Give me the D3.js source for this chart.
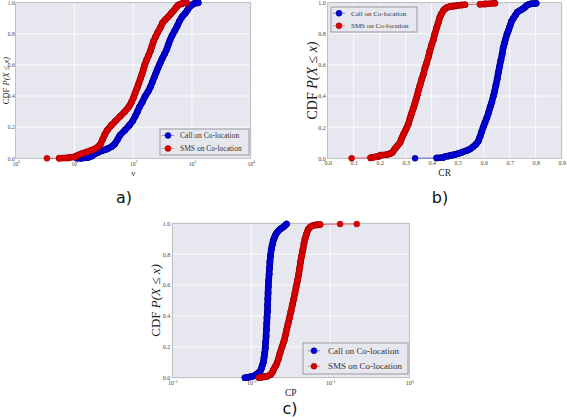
<!DOCTYPE html>
<html><head><meta charset="utf-8">
<script src="https://cdn.jsdelivr.net/npm/d3@7"></script>
<style>body{margin:0;background:#fff}svg{display:block}</style>
</head><body>
<svg id="c" width="567" height="418"></svg>
<script>
// ---- data: [value, CDF] ----
const callNu = [[11,0],[13,0],[17,0.005],[20,0.015],[22.5,0.03],[26,0.04],[30,0.05],[36,0.06],[43,0.075],[48,0.09],[54,0.12],[60,0.15],[72,0.18],[85,0.21],[98,0.24],[108,0.27],[118,0.3],[128,0.33],[142,0.36],[160,0.4],[180,0.43],[197,0.46],[212,0.49],[228,0.52],[245,0.55],[264,0.58],[286,0.61],[310,0.64],[340,0.67],[372,0.7],[395,0.73],[423,0.76],[460,0.79],[510,0.82],[560,0.85],[610,0.88],[680,0.91],[760,0.93],[830,0.95],[900,0.97],[990,0.985],[1100,0.995],[1282,1]];
const smsNu = [[3.4,0],[5.5,0],[7.9,0.003],[10.2,0.01],[11.5,0.02],[13.5,0.03],[16,0.04],[19,0.05],[22,0.06],[25.5,0.075],[27.5,0.09],[30,0.12],[32.5,0.15],[36,0.18],[42,0.21],[50,0.24],[60,0.27],[72,0.3],[84,0.33],[93,0.36],[101,0.39],[108,0.42],[116,0.45],[124,0.48],[132,0.51],[141,0.54],[149,0.57],[157,0.6],[168,0.63],[182,0.66],[196,0.69],[208,0.72],[220,0.75],[240,0.78],[262,0.81],[290,0.84],[315,0.87],[350,0.89],[395,0.91],[440,0.93],[490,0.95],[540,0.97],[586,0.985],[680,0.995],[813,1]];
const callCR = [[0.336,0],[0.419,0.002],[0.445,0.006],[0.451,0.01],[0.465,0.015],[0.477,0.02],[0.49,0.025],[0.502,0.03],[0.518,0.04],[0.535,0.05],[0.548,0.06],[0.56,0.075],[0.57,0.09],[0.579,0.11],[0.586,0.14],[0.592,0.17],[0.598,0.2],[0.605,0.23],[0.612,0.26],[0.618,0.29],[0.625,0.33],[0.631,0.36],[0.637,0.4],[0.642,0.43],[0.647,0.47],[0.652,0.51],[0.656,0.55],[0.661,0.59],[0.666,0.63],[0.671,0.67],[0.675,0.71],[0.68,0.74],[0.685,0.77],[0.69,0.8],[0.695,0.82],[0.701,0.85],[0.707,0.88],[0.714,0.9],[0.722,0.92],[0.73,0.94],[0.74,0.95],[0.75,0.96],[0.758,0.97],[0.765,0.982],[0.775,0.99],[0.785,0.993],[0.797,0.995],[0.802,0.996]];
const smsCR = [[0.092,0],[0.165,0.003],[0.175,0.006],[0.188,0.01],[0.2,0.015],[0.204,0.02],[0.23,0.025],[0.24,0.03],[0.25,0.04],[0.258,0.06],[0.268,0.08],[0.278,0.1],[0.285,0.13],[0.293,0.16],[0.302,0.19],[0.31,0.22],[0.317,0.26],[0.323,0.29],[0.329,0.32],[0.335,0.35],[0.34,0.38],[0.345,0.41],[0.35,0.44],[0.355,0.47],[0.362,0.51],[0.368,0.54],[0.374,0.58],[0.38,0.61],[0.387,0.65],[0.393,0.69],[0.4,0.73],[0.406,0.76],[0.412,0.8],[0.419,0.84],[0.425,0.87],[0.432,0.91],[0.438,0.93],[0.445,0.95],[0.451,0.96],[0.46,0.97],[0.47,0.975],[0.483,0.978],[0.496,0.98],[0.515,0.985],[0.528,0.987],[0.586,0.99],[0.605,0.992],[0.643,0.996]];
const callCP = [[0.0083,0],[0.0092,0.003],[0.0098,0.006],[0.0106,0.01],[0.0115,0.02],[0.0122,0.03],[0.0129,0.04],[0.0134,0.06],[0.0138,0.08],[0.0142,0.1],[0.0145,0.13],[0.0148,0.16],[0.015,0.19],[0.0152,0.23],[0.0154,0.27],[0.0155,0.31],[0.0157,0.35],[0.0158,0.39],[0.016,0.43],[0.0161,0.47],[0.0162,0.51],[0.0163,0.55],[0.0164,0.59],[0.0166,0.63],[0.0168,0.67],[0.017,0.71],[0.0172,0.75],[0.0175,0.79],[0.0179,0.83],[0.0184,0.86],[0.019,0.89],[0.0197,0.91],[0.0205,0.93],[0.0215,0.945],[0.023,0.96],[0.0245,0.97],[0.026,0.98],[0.0272,0.99],[0.028,0.995]];
const smsCP = [[0.0125,0],[0.0135,0.003],[0.0145,0.006],[0.016,0.01],[0.0175,0.02],[0.0185,0.035],[0.019,0.05],[0.0205,0.08],[0.022,0.12],[0.0231,0.16],[0.0245,0.2],[0.026,0.24],[0.0272,0.28],[0.028,0.31],[0.0292,0.35],[0.0305,0.39],[0.0318,0.43],[0.033,0.47],[0.0345,0.51],[0.0357,0.55],[0.037,0.59],[0.0385,0.63],[0.0398,0.67],[0.041,0.71],[0.042,0.75],[0.0435,0.79],[0.045,0.83],[0.0465,0.87],[0.0479,0.9],[0.05,0.93],[0.0525,0.96],[0.0553,0.975],[0.06,0.985],[0.0673,0.99],[0.0742,0.992],[0.133,0.995],[0.216,0.995]];

const seriesNames = ["Call on Co-location", "SMS on Co-location"];
const yTicks = [0, 0.2, 0.4, 0.6, 0.8, 1.0];
const nuExps = [0, 1, 2, 3, 4];
const crTicks = [0, 0.1, 0.2, 0.3, 0.4, 0.5, 0.6, 0.7, 0.8, 0.9];
const cpExps = [-3, -2, -1, 0];
const xLabels = ["\u03bd", "CR", "CP"];
const captions = ["a)", "b)", "c)"];

const colors = [{fill:"#0000d8", stroke:"#00008a"}, {fill:"#dd0000", stroke:"#990000"}];
const svg = d3.select("#c");
const SERIF = "'Liberation Serif','DejaVu Serif',serif";

function panel(o){
  const g = svg.append("g");
  const x = o.log ? d3.scaleLog().domain(o.xdom).range([o.l, o.r])
                  : d3.scaleLinear().domain(o.xdom).range([o.l, o.r]);
  const y = d3.scaleLinear().domain([0,1]).range([o.b, o.t]);
  g.append("rect").attr("x",o.l).attr("y",o.t).attr("width",o.r-o.l).attr("height",o.b-o.t)
    .attr("fill","#e7e7f0");
  g.selectAll(".gx").data(o.xticks).join("line")
    .attr("x1",d=>x(d)).attr("x2",d=>x(d)).attr("y1",o.t).attr("y2",o.b)
    .attr("stroke","#fff").attr("stroke-width",0.8);
  g.selectAll(".gy").data(yTicks).join("line")
    .attr("y1",d=>y(d)).attr("y2",d=>y(d)).attr("x1",o.l).attr("x2",o.r)
    .attr("stroke","#fff").attr("stroke-width",0.8);
  g.append("rect").attr("x",o.l).attr("y",o.t).attr("width",o.r-o.l).attr("height",o.b-o.t)
    .attr("fill","none").attr("stroke","#a8a8b0").attr("stroke-width",0.8);
  const yAx = d3.axisLeft(y).tickValues(yTicks).tickFormat(d3.format(".1f")).tickSize(0).tickPadding(o.ypad||2);
  const ya = g.append("g").attr("transform",`translate(${o.l},0)`).call(yAx);
  ya.select(".domain").remove();
  ya.selectAll("text").attr("font-family",SERIF).attr("font-size",o.tfs).attr("fill","#444");
  const xAx = d3.axisBottom(x).tickValues(o.xticks).tickSize(0).tickPadding(o.xpad||2)
     .tickFormat(o.log ? ()=>"" : d3.format(".1f"));
  const xa = g.append("g").attr("transform",`translate(0,${o.b})`).call(xAx);
  xa.select(".domain").remove();
  xa.selectAll("text").attr("font-family",SERIF).attr("font-size",o.tfs).attr("fill","#444");
  if (o.log) {
    xa.selectAll(".tick text").each(function(d){
      const t = d3.select(this);
      t.text(null);
      t.append("tspan").text("10");
      t.append("tspan").attr("font-size",o.tfs*0.72).attr("dy",-o.tfs*0.45).text(Math.round(Math.log10(d)));
    });
  }
  const line = d3.line().x(d=>x(d[0])).y(d=>y(d[1]));
  o.series.forEach((s,i)=>{
    g.append("path").datum(s).attr("d",line).attr("fill","none")
      .attr("stroke",colors[i].fill).attr("stroke-width",1).attr("stroke-opacity",0.5);
    const segs = d3.pairs(s).filter(([a,b])=>Math.hypot(x(a[0])-x(b[0]), y(a[1])-y(b[1])) < 11);
    g.selectAll(null).data(segs).join("line")
      .attr("x1",d=>x(d[0][0])).attr("y1",d=>y(d[0][1])).attr("x2",d=>x(d[1][0])).attr("y2",d=>y(d[1][1]))
      .attr("stroke",colors[i].stroke).attr("stroke-width",o.mr*2+0.6).attr("stroke-linecap","round");
    g.selectAll(null).data(segs).join("line")
      .attr("x1",d=>x(d[0][0])).attr("y1",d=>y(d[0][1])).attr("x2",d=>x(d[1][0])).attr("y2",d=>y(d[1][1]))
      .attr("stroke",colors[i].fill).attr("stroke-width",o.mr*2-0.6).attr("stroke-linecap","round");
    g.selectAll(null).data(s).join("circle")
      .attr("cx",d=>x(d[0])).attr("cy",d=>y(d[1])).attr("r",o.mr)
      .attr("fill",colors[i].fill).attr("stroke",colors[i].stroke).attr("stroke-width",0.5);
  });
  const L = o.leg;
  g.append("rect").attr("x",L.x).attr("y",L.y).attr("width",L.w).attr("height",L.h)
    .attr("fill","#e7e7f0").attr("stroke","#888").attr("stroke-width",0.8);
  seriesNames.forEach((n,i)=>{
    const cy = L.y + L.h*(i*2+1)/4;
    g.append("line").attr("x1",L.mx-6).attr("x2",L.mx+6).attr("y1",cy).attr("y2",cy)
      .attr("stroke",colors[i].fill).attr("stroke-opacity",0.4).attr("stroke-width",1);
    g.append("circle").attr("cx",L.mx).attr("cy",cy).attr("r",o.mr)
      .attr("fill",colors[i].fill).attr("stroke",colors[i].stroke).attr("stroke-width",0.5);
    g.append("text").attr("x",L.tx).attr("y",cy).attr("dy","0.35em")
      .attr("font-family",SERIF).attr("font-size",L.fs).attr("fill","#333").text(n);
  });
  const yl = g.append("text").attr("transform",`translate(${o.ylx},${(o.t+o.b)/2}) rotate(-90)`)
    .attr("text-anchor","middle").attr("font-family",SERIF).attr("font-size",o.yfs).attr("fill","#222");
  yl.append("tspan").text("CDF ");
  yl.append("tspan").attr("font-style","italic").text("P(X \u2264 x)");
  g.append("text").attr("x",(o.l+o.r)/2).attr("y",o.xly).attr("text-anchor","middle")
    .attr("font-family",SERIF).attr("font-size",o.xfs).attr("fill","#222").text(o.xlabel);
  g.append("text").attr("x",o.capx).attr("y",o.capy).attr("text-anchor","middle")
    .attr("font-family","'DejaVu Sans',sans-serif").attr("font-size",16).attr("fill","#111").text(o.cap);
}

panel({log:true, xdom:[1,1e4], l:15.7, r:250.7, t:2.7, b:158.3,
  xticks:nuExps.map(e=>Math.pow(10,e)), series:[callNu, smsNu], mr:3, tfs:5.5, ypad:1, xpad:3.5,
  leg:{x:160,y:129,w:89,h:26,mx:168,tx:180,fs:7.5},
  ylx:8.5, yfs:8.5, xly:176, xfs:9, xlabel:xLabels[0], cap:captions[0], capx:124, capy:203});

panel({log:false, xdom:[0,0.9], l:327.7, r:561.7, t:2.7, b:158.3,
  xticks:crTicks, series:[callCR, smsCR], mr:3, tfs:6,
  leg:{x:331,y:7,w:86,h:25,mx:339,tx:351,fs:7},
  ylx:317, yfs:14, xly:176, xfs:9.5, xlabel:xLabels[1], cap:captions[1], capx:440, capy:203});

panel({log:true, xdom:[1e-3,1], l:172.3, r:409.3, t:223.3, b:377.7,
  xticks:cpExps.map(e=>Math.pow(10,e)), series:[callCP, smsCP], mr:3, tfs:6, xpad:3.5,
  leg:{x:303,y:343,w:105,h:31,mx:314,tx:328,fs:9},
  ylx:160, yfs:13, xly:396, xfs:9.5, xlabel:xLabels[2], cap:captions[2], capx:290, capy:414});
</script>
</body></html>
